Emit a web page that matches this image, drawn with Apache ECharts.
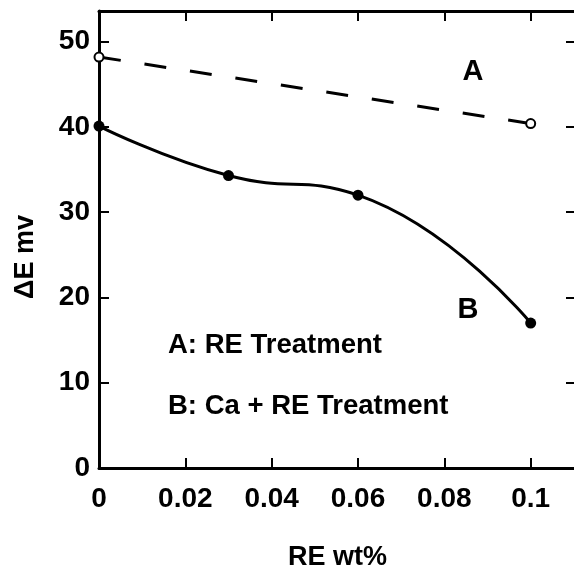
<!DOCTYPE html>
<html>
<head>
<meta charset="utf-8">
<script src="https://cdn.jsdelivr.net/npm/echarts@6/dist/echarts.min.js"></script>
<style>
html,body{margin:0;padding:0;background:#fff;}
#c{width:574px;height:569px;}
</style>
</head>
<body>
<div id="c"></div>
<script>
// Data
var xTicks = [0, 0.02, 0.04, 0.06, 0.08, 0.1];
var seriesA_x = [0, 0.1];
var seriesA_y = [48.2, 40.4];
var seriesB_x = [0, 0.03, 0.06, 0.1];
var seriesB_y = [40.1, 34.3, 32.0, 17.0];
var labelA = 'A';
var labelB = 'B';
var legendA = 'A: RE Treatment';
var legendB = 'B: Ca + RE Treatment';
var xName = 'RE wt%';
var yName = '\u0394E mv';

var FONT = '"Liberation Sans", Arial, Helvetica, sans-serif';

function pairs(xs, ys){ return xs.map(function(x,i){ return [x, ys[i]]; }); }

var chart = echarts.init(document.getElementById('c'), null, {renderer:'canvas'});

var axisLine = {show:true, onZero:false, lineStyle:{color:'#000', width:3}};
var tickIn = {show:true, inside:true, length:10, lineStyle:{color:'#000', width:2}};

var option = {
  backgroundColor:'#fff',
  animation:false,
  grid:{left:99, right:-2, top:11, bottom:101, containLabel:false, outerBoundsMode:'none'},
  xAxis:[{
    type:'value', min:0, max:0.1105, interval:0.02, position:'bottom',
    axisLine:axisLine, axisTick:tickIn, splitLine:{show:false},
    axisLabel:{show:true, margin:17, color:'#000', fontFamily:FONT, fontWeight:'bold', fontSize:28,
      showMaxLabel:false,
      formatter:function(v){ var r = Math.round(v*100)/100; return xTicks.indexOf(r) >= 0 ? String(r) : ''; }},
    name:xName, nameLocation:'middle', nameGap:76,
    nameTextStyle:{color:'#000', fontFamily:FONT, fontWeight:'bold', fontSize:27}
  },{
    type:'value', min:0, max:0.1105, interval:0.02, position:'top',
    axisLine:axisLine, axisTick:tickIn, splitLine:{show:false}, axisLabel:{show:false}
  }],
  yAxis:[{
    type:'value', min:0, max:53.6, interval:10, position:'left',
    axisLine:axisLine, axisTick:tickIn, splitLine:{show:false},
    axisLabel:{show:true, margin:9, color:'#000', fontFamily:FONT, fontWeight:'bold', fontSize:28, showMaxLabel:false}
  },{
    type:'value', min:0, max:53.6, interval:10, position:'right',
    axisLine:axisLine, axisTick:tickIn, splitLine:{show:false}, axisLabel:{show:false}
  }],
  graphic:[
    {type:'text', x:26, y:257, rotation:Math.PI/2, style:{text:yName, fill:'#000', font:'bold 27px '+FONT, align:'center', verticalAlign:'middle'}},
    {type:'text', x:473, y:72, style:{text:labelA, fill:'#000', font:'bold 29px '+FONT, align:'center', verticalAlign:'middle'}},
    {type:'text', x:468, y:310, style:{text:labelB, fill:'#000', font:'bold 29px '+FONT, align:'center', verticalAlign:'middle'}},
    {type:'text', x:168, y:345, style:{text:legendA, fill:'#000', font:'bold 27.5px '+FONT, align:'left', verticalAlign:'middle'}},
    {type:'text', x:168, y:406, style:{text:legendB, fill:'#000', font:'bold 27.5px '+FONT, align:'left', verticalAlign:'middle'}}
  ],
  series:[
    {type:'line', name:'A', data:pairs(seriesA_x, seriesA_y), xAxisIndex:0, yAxisIndex:0,
      symbol:'circle', symbolSize:9, showSymbol:true,
      itemStyle:{color:'#fff', borderColor:'#000', borderWidth:2},
      lineStyle:{color:'#000', width:3, type:[22,24]}, z:3},
    {type:'line', name:'B', data:pairs(seriesB_x, seriesB_y), xAxisIndex:0, yAxisIndex:0,
      smooth:0.5, symbol:'circle', symbolSize:11, showSymbol:true,
      itemStyle:{color:'#000', borderColor:'#000', borderWidth:0},
      lineStyle:{color:'#000', width:3}, z:3}
  ]
};
chart.setOption(option);
</script>
</body>
</html>
